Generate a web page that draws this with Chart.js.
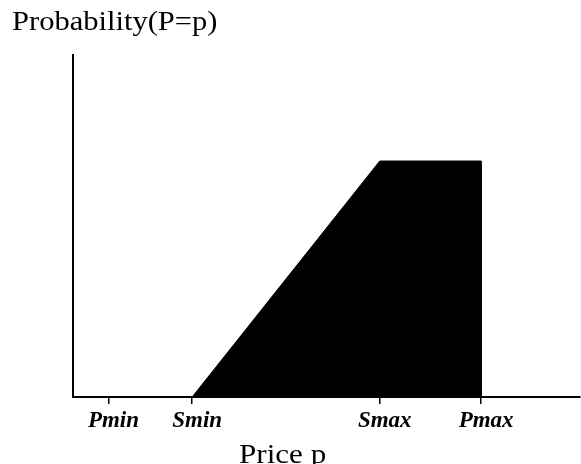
<!DOCTYPE html>
<html>
<head>
<meta charset="utf-8">
<script src="https://cdn.jsdelivr.net/npm/chart.js@4/dist/chart.umd.min.js"></script>
<style>
  html, body { margin: 0; padding: 0; background: #fff; }
  #wrap { width: 581px; height: 464px; }
</style>
</head>
<body>
<div id="wrap"><canvas id="probChart"></canvas></div>
<script>
// price axis ticks
const tickValues = [7, 23.5, 60.5, 80.5];
const tickLabels = ['Pmin', 'Smin', 'Smax', 'Pmax'];

// outline of the filled region
const priceX = [23.5, 60.5, 80.5, 80.5];
const probY = [0, 0.69, 0.69, 0];

const serif = '"Liberation Serif", "DejaVu Serif", serif';

// free text: y label at top left and x label under the ticks
// (the scanned original is a bit wider than the font, so stretch it)
function wideText(ctx, txt, x, y, sx) {
  ctx.save();
  ctx.translate(x, y);
  ctx.scale(sx, 1);
  ctx.fillText(txt, 0, 0);
  ctx.restore();
}

const textPlugin = {
  id: 'freeText',
  afterDraw(chart) {
    const ctx = chart.ctx;
    ctx.save();
    ctx.fillStyle = '#000';
    ctx.textBaseline = 'alphabetic';
    ctx.font = '28px ' + serif;
    wideText(ctx, 'Probability(P=p)', 12, 30, 1.09);
    wideText(ctx, 'Price p', 239, 463, 1.11);
    ctx.restore();
  }
};

new Chart(document.getElementById('probChart'), {
  type: 'line',
  data: {
    datasets: [{
      data: priceX.map((x, i) => ({ x: x, y: probY[i] })),
      borderColor: '#000',
      backgroundColor: '#000',
      borderWidth: 1,
      fill: 'origin',
      pointRadius: 0,
      tension: 0
    }]
  },
  options: {
    responsive: true,
    maintainAspectRatio: false,
    animation: false,
    layout: { padding: { left: 73, right: 1, top: 55, bottom: 0 } },
    plugins: {
      legend: { display: false },
      tooltip: { enabled: false }
    },
    scales: {
      x: {
        type: 'linear',
        min: 0,
        max: 100,
        afterBuildTicks: (axis) => {
          axis.ticks = tickValues.map(v => ({ value: v }));
        },
        afterFit: (s) => { s.height = 67; },
        ticks: {
          autoSkip: false,
          maxRotation: 0,
          padding: 3,
          labelOffset: 5,
          color: '#000',
          font: { family: serif, size: 23, style: 'italic', weight: 'bold' },
          callback: (v, i) => tickLabels[i]
        },
        grid: {
          drawOnChartArea: false,
          drawTicks: true,
          tickLength: 7,
          color: '#000',
          lineWidth: 1.5
        },
        border: { display: true, color: '#000', width: 2 }
      },
      y: {
        min: 0,
        max: 1,
        afterFit: (s) => { s.width = 0; },
        ticks: { display: false },
        grid: { display: false },
        border: { display: true, color: '#000', width: 2 }
      }
    }
  },
  plugins: [textPlugin]
});
</script>
</body>
</html>
